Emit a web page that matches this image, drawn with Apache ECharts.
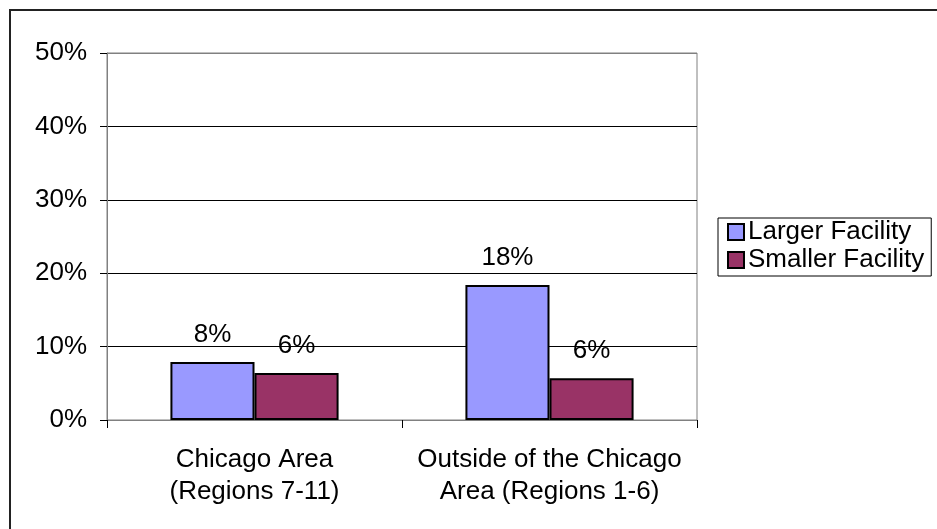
<!DOCTYPE html>
<html>
<head>
<meta charset="utf-8">
<script src="https://cdn.jsdelivr.net/npm/echarts@6/dist/echarts.min.js"></script>
<style>
  html, body { margin: 0; padding: 0; background: #fff; }
  #chart { width: 937px; height: 529px; }
</style>
</head>
<body>
<div id="chart"></div>
<script>
const categories = ["Chicago Area\n(Regions 7-11)", "Outside of the Chicago\nArea (Regions 1-6)"];
const largerFacility = [7.9, 18.4];
const smallerFacility = [6.4, 5.7];
const seriesNames = ["Larger Facility", "Smaller Facility"];

const font = "Liberation Sans, Arial, sans-serif";
const chart = echarts.init(document.getElementById("chart"));

const label = {
  show: true,
  position: "top",
  distance: 14,
  fontFamily: font,
  fontSize: 26,
  color: "#000",
  formatter: (p) => Math.round(p.value) + "%",
};

chart.setOption({
  animation: false,
  textStyle: { fontFamily: font },
  graphic: [
    {
      type: "rect",
      shape: { x: 10, y: 10, width: 1000, height: 1000 },
      style: { fill: "none", stroke: "#222", lineWidth: 2 },
      silent: true,
    },
  ],
  grid: {
    left: 107,
    top: 53,
    right: 240,
    bottom: 109,
    show: true,
    borderColor: "#808080",
    borderWidth: 1,
  },
  legend: {
    orient: "vertical",
    left: 718,
    top: 218,
    data: seriesNames,
    itemWidth: 16,
    itemHeight: 16,
    itemGap: 2,
    padding: [1, 7, 3, 9],
    borderColor: "#000",
    borderWidth: 1,
    icon: "rect",
    textStyle: { fontFamily: font, fontSize: 26, color: "#000", lineHeight: 25, padding: [0, 0, 0, -1] },
  },
  xAxis: {
    type: "category",
    data: categories,
    axisLine: { lineStyle: { color: "#808080", width: 1 } },
    axisTick: { show: true, length: 8, lineStyle: { color: "#000" } },
    axisLabel: {
      interval: 0,
      fontFamily: font,
      fontSize: 26,
      color: "#000",
      lineHeight: 32,
      margin: 24,
    },
  },
  yAxis: {
    type: "value",
    min: 0,
    max: 50,
    interval: 10,
    axisLine: { show: true, lineStyle: { color: "#808080", width: 1 } },
    axisTick: { show: true, length: 7, lineStyle: { color: "#000" } },
    axisLabel: {
      fontFamily: font,
      fontSize: 26,
      color: "#000",
      margin: 20,
      formatter: "{value}%",
    },
    splitLine: {
      lineStyle: {
        color: ["#808080", "#000", "#000", "#000", "#000", "#808080"],
        width: 1,
      },
    },
  },
  series: [
    {
      name: seriesNames[0],
      type: "bar",
      data: largerFacility,
      barGap: "0%",
      barCategoryGap: "43%",
      itemStyle: { color: "#9999FF", borderColor: "#000", borderWidth: 2 },
      label: label,
    },
    {
      name: seriesNames[1],
      type: "bar",
      data: smallerFacility,
      itemStyle: { color: "#993366", borderColor: "#000", borderWidth: 2 },
      label: label,
    },
  ],
});
</script>
</body>
</html>
